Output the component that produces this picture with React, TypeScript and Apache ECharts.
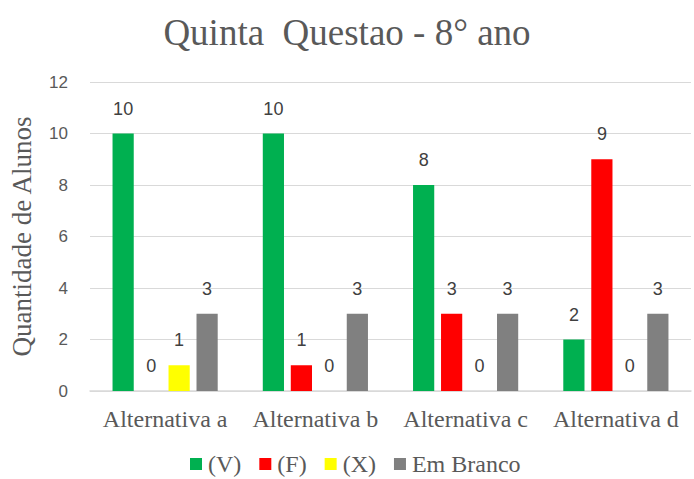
import React, { useEffect, useRef } from "react";
import * as echarts from "echarts";

const categories = ["Alternativa a", "Alternativa b", "Alternativa c", "Alternativa d"];
const seriesNames = ["(V)", "(F)", "(X)", "Em Branco"];
const valuesV = [10, 10, 8, 2];
const valuesF = [0, 1, 3, 9];
const valuesX = [1, 0, 0, 0];
const valuesBranco = [3, 3, 3, 3];
const colors = ["#00B050", "#FF0000", "#FFFF00", "#808080"];

export default function App() {
  const ref = useRef<HTMLDivElement>(null);
  useEffect(() => {
    document.body.style.margin = "0";
    const chart = echarts.init(ref.current!, null, { renderer: "svg" });
    const data = [valuesV, valuesF, valuesX, valuesBranco];
    chart.setOption({
      animation: false,
      title: {
        text: "Quinta  Questao - 8° ano",
        left: "center",
        top: 9,
        textStyle: { fontFamily: "Liberation Serif", fontSize: 37, fontWeight: "normal", color: "#595959" },
      },
      legend: {
        top: 447,
        left: 185,
        itemWidth: 12,
        itemHeight: 12,
        itemGap: 18,
        icon: "rect",
        textStyle: { fontFamily: "Liberation Serif", fontSize: 24, color: "#595959", padding: [0, 0, 0, 1] },
        data: seriesNames,
      },
      grid: { left: 90, right: 3, top: 82, bottom: 88, containLabel: false },
      xAxis: {
        type: "category",
        data: categories,
        axisLine: { lineStyle: { color: "#d9d9d9", width: 1.5 } },
        axisTick: { show: false },
        axisLabel: { fontFamily: "Liberation Serif", fontSize: 24, color: "#595959", margin: 16, interval: 0 },
      },
      yAxis: {
        type: "value",
        min: 0,
        max: 12,
        interval: 2,
        name: "Quantidade de Alunos",
        nameLocation: "middle",
        nameGap: 55,
        nameTextStyle: { fontFamily: "Liberation Serif", fontSize: 27, color: "#595959" },
        axisLine: { show: false },
        axisTick: { show: false },
        axisLabel: { fontFamily: "Liberation Sans", fontSize: 17, color: "#595959", margin: 22 },
        splitLine: { lineStyle: { color: "#d9d9d9" } },
      },
      series: seriesNames.map((name, i) => ({
        name,
        type: "bar",
        data: data[i],
        barGap: "32%",
        barCategoryGap: "30%",
        itemStyle: { color: colors[i] },
        label: {
          show: true,
          position: "top",
          distance: 16,
          fontFamily: "Liberation Sans",
          fontSize: 18,
          color: "#404040",
        },
      })),
    });
    return () => chart.dispose();
  }, []);
  return <div ref={ref} style={{ width: 694, height: 479 }} />;
}
